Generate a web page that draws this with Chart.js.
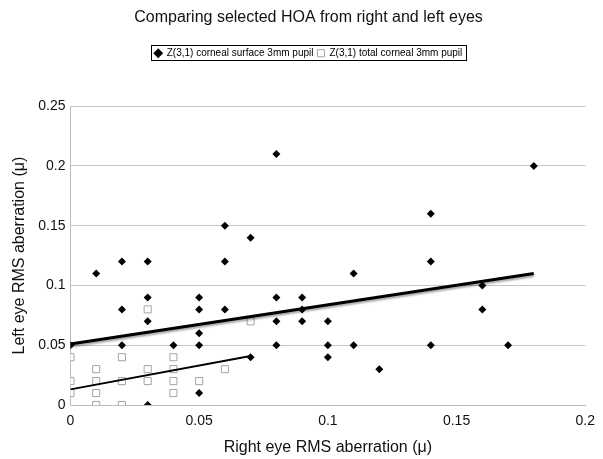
<!DOCTYPE html>
<html>
<head>
<meta charset="utf-8">
<script src="https://cdn.jsdelivr.net/npm/chart.js@4"></script>
<style>
  html, body { margin: 0; padding: 0; background: #fff; }
  #wrap { width: 603px; height: 459px; }
</style>
</head>
<body>
<div id="wrap"><canvas id="hoaChart" width="603" height="459"></canvas></div>
<script>
// ── data ──
const surfaceX = [0, 0.01, 0.02, 0.02, 0.02, 0.03, 0.03, 0.03, 0.03, 0.04,
                  0.05, 0.05, 0.05, 0.05, 0.05, 0.06, 0.06, 0.06, 0.07, 0.07,
                  0.08, 0.08, 0.08, 0.08, 0.09, 0.09, 0.09, 0.10, 0.10, 0.10,
                  0.11, 0.11, 0.12, 0.14, 0.14, 0.14, 0.16, 0.16, 0.17, 0.18];
const surfaceY = [0.05, 0.11, 0.12, 0.08, 0.05, 0.12, 0.09, 0.07, 0.00, 0.05,
                  0.09, 0.08, 0.06, 0.05, 0.01, 0.15, 0.12, 0.08, 0.14, 0.04,
                  0.21, 0.09, 0.07, 0.05, 0.09, 0.08, 0.07, 0.07, 0.05, 0.04,
                  0.11, 0.05, 0.03, 0.16, 0.12, 0.05, 0.10, 0.08, 0.05, 0.20];

const totalX = [0, 0, 0, 0.01, 0.01, 0.01, 0.01, 0.02, 0.02, 0.02,
                0.03, 0.03, 0.03, 0.04, 0.04, 0.04, 0.04, 0.05, 0.06, 0.07];
const totalY = [0.04, 0.02, 0.01, 0.03, 0.02, 0.01, 0.00, 0.04, 0.02, 0.00,
                0.08, 0.03, 0.02, 0.04, 0.03, 0.02, 0.01, 0.02, 0.03, 0.07];

// trend lines (end points as drawn)
const surfaceTrendX = [0, 0.18];
const surfaceTrendY = [0.051, 0.110];
const totalTrendX = [0, 0.07];
const totalTrendY = [0.013, 0.041];

const xTicks = ['0', '0.05', '0.1', '0.15', '0.2'];
const yTicks = ['0', '0.05', '0.1', '0.15', '0.2', '0.25'];

const seriesNames = ['Z(3,1) corneal surface 3mm pupil', 'Z(3,1) total corneal 3mm pupil'];

const pts = (xs, ys) => xs.map((x, i) => ({ x: x, y: ys[i] }));
const FONT = "'Liberation Sans', Arial, sans-serif";

// ── plugins ──
const legendSpace = {
  id: 'legendSpace',
  beforeInit(chart) {
    const fit = chart.legend.fit;
    chart.legend.fit = function () {
      fit.bind(chart.legend)();
      this.height += 38;
    };
  }
};

// title and legend sit a little right of the canvas centre
const shiftHeader = {
  id: 'shiftHeader',
  afterLayout(chart) {
    [chart.titleBlock, chart.legend].forEach(b => {
      if (!b) return;
      b.left += 11;
      b.right += 11;
    });
  }
};

const legendBox = {
  id: 'legendBox',
  afterDraw(chart) {
    const boxes = chart.legend.legendHitBoxes;
    if (!boxes || !boxes.length) return;
    const l = Math.min(...boxes.map(b => b.left)) - 4;
    const r = Math.max(...boxes.map(b => b.left + b.width)) + 3;
    const t = boxes[0].top - 3;
    const h = boxes[0].height + 5;
    const ctx = chart.ctx;
    ctx.save();
    ctx.strokeStyle = '#000';
    ctx.lineWidth = 1;
    ctx.strokeRect(Math.round(l) + 0.5, Math.round(t) + 0.5, Math.round(r - l), Math.round(h));
    ctx.restore();
  }
};

const trendShadow = {
  id: 'trendShadow',
  beforeDatasetDraw(chart, args) {
    if (args.index !== 0) return;
    const ctx = chart.ctx;
    ctx.save();
    ctx.shadowColor = 'rgba(0,0,0,0.35)';
    ctx.shadowBlur = 2;
    ctx.shadowOffsetY = 2;
  },
  afterDatasetDraw(chart, args) {
    if (args.index !== 0) return;
    chart.ctx.restore();
  }
};

new Chart(document.getElementById('hoaChart').getContext('2d'), {
  type: 'scatter',
  data: {
    datasets: [
      {
        label: 'trend surface', type: 'line',
        data: pts(surfaceTrendX, surfaceTrendY),
        borderColor: '#000', borderWidth: 3, pointRadius: 0, fill: false, order: 0
      },
      {
        label: 'trend total', type: 'line',
        data: pts(totalTrendX, totalTrendY),
        borderColor: '#000', borderWidth: 1.8, pointRadius: 0, fill: false, order: 0
      },
      {
        label: seriesNames[0],
        data: pts(surfaceX, surfaceY),
        pointStyle: 'rectRot', pointRadius: 4, pointHoverRadius: 4,
        backgroundColor: '#000', borderColor: '#000', borderWidth: 0, order: 1
      },
      {
        label: seriesNames[1],
        data: pts(totalX, totalY),
        pointStyle: 'rect', pointRadius: 5, pointHoverRadius: 5,
        backgroundColor: '#fff', borderColor: '#a4a4a4', borderWidth: 1, order: 1
      }
    ]
  },
  options: {
    responsive: false,
    animation: false,
    layout: { padding: { left: 6, right: 14, top: 4, bottom: 0 } },
    plugins: {
      title: {
        display: true,
        text: 'Comparing selected HOA from right and left eyes',
        color: '#111',
        font: { family: FONT, size: 16, weight: 'normal' },
        padding: { top: 4, bottom: 17 }
      },
      legend: {
        labels: {
          filter: item => item.datasetIndex >= 2,
          usePointStyle: true,
          boxWidth: 7, boxHeight: 7,
          padding: 4,
          color: '#000',
          font: { family: FONT, size: 10 }
        }
      },
      tooltip: { enabled: false }
    },
    scales: {
      x: {
        type: 'linear', min: 0, max: 0.2,
        ticks: {
          stepSize: 0.05, color: '#111', padding: 8,
          font: { family: FONT, size: 14 },
          callback: (v, i) => xTicks[i]
        },
        grid: { display: false, drawTicks: false },
        border: { display: true, color: '#bdbdbd' },
        title: {
          display: true, text: 'Right eye RMS aberration (\u03bc)', color: '#111',
          font: { family: FONT, size: 16 }, padding: { top: 0, bottom: 2 }
        }
      },
      y: {
        type: 'linear', min: 0, max: 0.25,
        ticks: {
          stepSize: 0.05, color: '#111', padding: 5,
          font: { family: FONT, size: 14 },
          callback: (v, i) => yTicks[i]
        },
        grid: { color: '#c6c6c6', drawTicks: false },
        border: { display: true, color: '#bdbdbd' },
        title: {
          display: true, text: 'Left eye RMS aberration (\u03bc)', color: '#111',
          font: { family: FONT, size: 16 }, padding: { bottom: 4 }
        }
      }
    }
  },
  plugins: [legendSpace, shiftHeader, legendBox, trendShadow]
});
</script>
</body>
</html>
